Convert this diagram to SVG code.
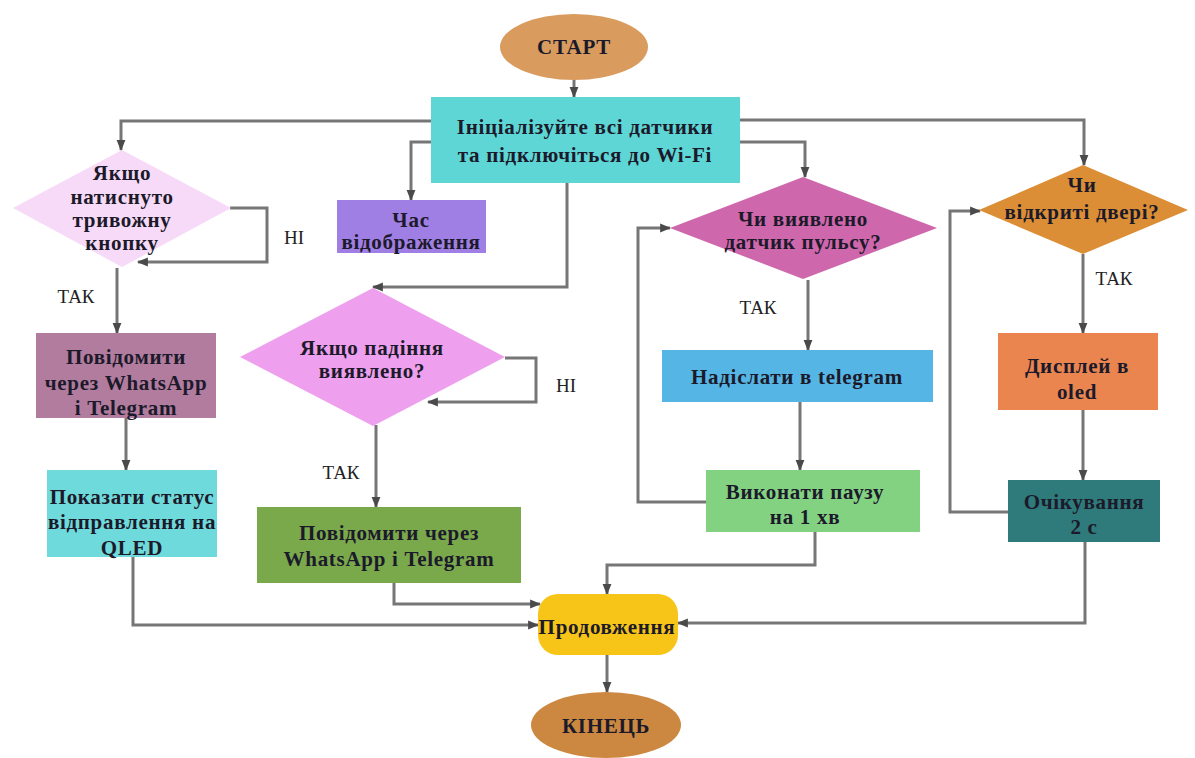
<svg xmlns="http://www.w3.org/2000/svg" width="1195" height="758" viewBox="0 0 1195 758">
  <style>
    .t { font-family: "Liberation Serif", "Times New Roman", serif; font-weight: bold; font-size: 21px; letter-spacing: 0.7px; fill: #1c1a2a; text-anchor: middle; }
    .lbl { font-family: "Liberation Serif", "Times New Roman", serif; font-size: 19px; fill: #222; text-anchor: middle; }
    .con { fill: none; stroke: #767676; stroke-width: 3; marker-end: url(#arr); }
  </style>
  <defs>
    <marker id="arr" viewBox="0 0 10 10" refX="9" refY="5" markerWidth="11" markerHeight="11" markerUnits="userSpaceOnUse" orient="auto">
      <path d="M0,1 L10,5 L0,9 z" fill="#4a4a4a"/>
    </marker>
  </defs>

  <rect width="1195" height="758" fill="#ffffff"/>

  <!-- connectors -->
  <g id="connectors">
    <path class="con" d="M574 80 V97"/>
    <path class="con" d="M431 121 H121 V150"/>
    <path class="con" d="M431 142 H411 V200"/>
    <path class="con" d="M567 183 V287 H373"/>
    <path class="con" d="M740 142 H805 V177"/>
    <path class="con" d="M740 120 H1084 V165"/>
    <path class="con" d="M230 208 H267 V262 H138"/>
    <path class="con" d="M117 268 V333"/>
    <path class="con" d="M126 418 V470"/>
    <path class="con" d="M133 557 V625 H538"/>
    <path class="con" d="M505 358 H536 V402 H428"/>
    <path class="con" d="M376 425 V507"/>
    <path class="con" d="M394 583 V604 H540"/>
    <path class="con" d="M808 280 V350"/>
    <path class="con" d="M800 402 V470"/>
    <path class="con" d="M706 502 H638 V228 H670"/>
    <path class="con" d="M815 532 V565 H607 V594"/>
    <path class="con" d="M1083 254 V333"/>
    <path class="con" d="M1083 410 V480"/>
    <path class="con" d="M1008 512 H950 V211 H980"/>
    <path class="con" d="M1085 542 V623 H678"/>
    <path class="con" d="M607 655 V692"/>
  </g>

  <!-- edge labels -->
  <g id="edge-labels">
    <text class="lbl" x="76" y="303">ТАК</text>
    <text class="lbl" x="294" y="244">НІ</text>
    <text class="lbl" x="566" y="392">НІ</text>
    <text class="lbl" x="341" y="479">ТАК</text>
    <text class="lbl" x="758" y="314">ТАК</text>
    <text class="lbl" x="1114" y="285">ТАК</text>
  </g>

  <g id="start">
    <ellipse cx="574" cy="47" rx="74" ry="33" fill="#D99C5E"/>
    <text class="t" x="574" y="54">СТАРТ</text>
  </g>

  <g id="init">
    <rect x="431" y="97" width="309" height="86" fill="#5ED6D6"/>
    <text class="t" x="585" y="134">Ініціалізуйте всі датчики</text>
    <text class="t" x="585" y="162">та підключіться до Wi-Fi</text>
  </g>

  <g id="panic-check">
    <polygon points="122,150 231,208 122,267 13,208" fill="#F7DAF7"/>
    <text class="t" x="122" y="180">Якщо</text>
    <text class="t" x="122" y="204">натиснуто</text>
    <text class="t" x="122" y="227">тривожну</text>
    <text class="t" x="122" y="250">кнопку</text>
  </g>

  <g id="show-time">
    <rect x="337" y="200" width="149" height="53" fill="#A07FE4"/>
    <text class="t" x="411" y="227">Час</text>
    <text class="t" x="411" y="249">відображення</text>
  </g>

  <g id="notify-panic">
    <rect x="36" y="333" width="180" height="85" fill="#B27C9F"/>
    <text class="t" x="126" y="364">Повідомити</text>
    <text class="t" x="126" y="390">через WhatsApp</text>
    <text class="t" x="126" y="415">і Telegram</text>
  </g>

  <g id="status-qled">
    <rect x="47" y="470" width="170" height="87" fill="#6FDADC"/>
    <text class="t" x="132" y="504">Показати статус</text>
    <text class="t" x="132" y="529">відправлення на</text>
    <text class="t" x="132" y="555">QLED</text>
  </g>

  <g id="fall-check">
    <polygon points="373,288 505,357 373,426 240,357" fill="#EEA0EE"/>
    <text class="t" x="372" y="355">Якщо падіння</text>
    <text class="t" x="372" y="378">виявлено?</text>
  </g>

  <g id="notify-fall">
    <rect x="257" y="507" width="264" height="76" fill="#79A94B"/>
    <text class="t" x="389" y="540">Повідомити через</text>
    <text class="t" x="389" y="566">WhatsApp і Telegram</text>
  </g>

  <g id="pulse-check">
    <polygon points="803,177 937,228 803,279 670,228" fill="#CF67AC"/>
    <text class="t" x="803" y="226">Чи виявлено</text>
    <text class="t" x="803" y="249">датчик пульсу?</text>
  </g>

  <g id="send-telegram">
    <rect x="662" y="350" width="271" height="52" fill="#55B6E6"/>
    <text class="t" x="797" y="384">Надіслати в telegram</text>
  </g>

  <g id="pause">
    <rect x="706" y="470" width="214" height="62" fill="#82D282"/>
    <text class="t" x="805" y="499">Виконати паузу</text>
    <text class="t" x="805" y="524">на 1 хв</text>
  </g>

  <g id="door-check">
    <polygon points="1083,165 1188,210 1083,254 979,210" fill="#DB8E35"/>
    <text class="t" x="1082" y="192">Чи</text>
    <text class="t" x="1082" y="219">відкриті двері?</text>
  </g>

  <g id="oled-display">
    <rect x="998" y="333" width="160" height="77" fill="#EA8550"/>
    <text class="t" x="1077" y="373">Дисплей в</text>
    <text class="t" x="1077" y="399">oled</text>
  </g>

  <g id="wait">
    <rect x="1008" y="480" width="152" height="62" fill="#2F7B7B"/>
    <text class="t" x="1084" y="509">Очікування</text>
    <text class="t" x="1084" y="534">2 с</text>
  </g>

  <g id="continue">
    <rect x="538" y="594" width="140" height="61" rx="20" ry="20" fill="#F6C518"/>
    <text class="t" x="607" y="634">Продовження</text>
  </g>

  <g id="end">
    <ellipse cx="606" cy="725" rx="75" ry="33" fill="#CC8840"/>
    <text class="t" x="606" y="733">КІНЕЦЬ</text>
  </g>
</svg>
